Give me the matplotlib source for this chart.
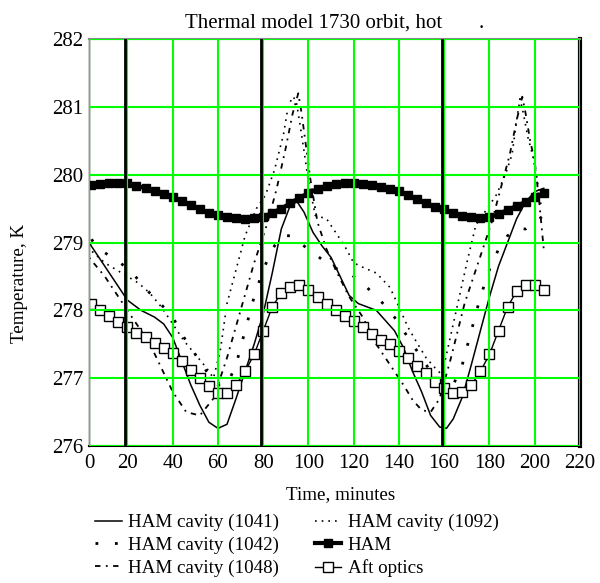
import matplotlib.pyplot as plt

plt.rcParams['font.family'] = ['Liberation Serif', 'DejaVu Serif']
plt.rcParams['font.size'] = 13.7

# HAM cavity (1041), solid line
t_1041 = [0, 4, 10, 16, 20, 26, 32, 36, 40, 44, 48, 52, 56, 60, 64, 68, 72, 76, 80, 84,
          88, 92, 95, 98, 102, 106, 110, 114, 118, 122, 126, 130, 134, 138, 142, 146, 150,
          154, 158, 161, 164, 168, 172, 176, 180, 184, 188, 192, 196, 200, 204]
v_1041 = [279.2, 278.95, 278.65, 278.35, 278.15, 278.0, 277.9, 277.8, 277.6, 277.25, 276.9,
          276.6, 276.35, 276.26, 276.32, 276.7, 277.1, 277.5, 277.95, 278.55, 279.2, 279.55,
          279.6, 279.45, 279.15, 278.95, 278.78, 278.5, 278.22, 278.1, 278.05, 278.0, 277.85,
          277.7, 277.45, 277.1, 276.8, 276.45, 276.28, 276.26, 276.4, 276.72, 277.2, 277.7,
          278.2, 278.65, 279.0, 279.35, 279.6, 279.75, 279.8]

# HAM cavity (1042), sparse dots
t_1042 = [0, 5, 10, 15, 21, 26, 30, 34, 40, 45, 50, 55, 60, 64, 68, 72, 76, 80, 84, 88,
          92, 96, 100, 106, 112, 118, 124, 130, 136, 142, 148, 154, 160, 164, 168, 172, 176,
          180, 184, 188, 192, 196, 200, 204]
v_1042 = [279.3, 279.0, 278.85, 278.74, 278.6, 278.4, 278.25, 278.12, 277.9, 277.6, 277.35,
          277.1, 276.9, 276.9, 277.2, 277.7, 278.2, 278.6, 278.9, 279.1, 279.1, 279.0, 278.9,
          278.75, 278.62, 278.55, 278.4, 278.2, 278.0, 277.7, 277.4, 277.1, 276.9, 276.9,
          277.2, 277.7, 278.2, 278.6, 278.9, 279.1, 279.2, 279.2, 279.3, 279.4]

# HAM cavity (1048), dash-dot
t_1048 = [0, 10, 20, 30, 40, 46, 52, 58, 64, 70, 76, 82, 86, 90, 93, 95.5, 97, 99, 101,
          104, 108, 112, 118, 124, 130, 136, 142, 146, 150, 154, 158, 163, 169, 175, 181,
          185, 189, 192, 194.5, 196, 198, 200, 202, 204]
v_1048 = [278.9, 278.5, 278.0, 277.5, 276.8, 276.5, 276.45, 276.7, 277.3, 278.0, 278.7,
          279.3, 279.8, 280.4, 280.9, 281.2, 280.9, 280.4, 279.9, 279.3, 278.9, 278.6,
          278.2, 277.9, 277.5, 277.2, 276.9, 276.68, 276.53, 276.5, 276.7, 277.3, 278.1,
          278.7, 279.3, 279.8, 280.3, 280.8, 281.15, 280.9, 280.5, 280.2, 279.6, 278.9]

# HAM cavity (1092), fine dots
t_1092 = [0, 5, 10, 15, 20, 25, 30, 35, 40, 45, 50, 55, 58, 61, 64, 68, 72, 77, 81, 85,
          89, 91, 93, 94.5, 96, 98, 100, 103, 108, 112, 116, 120, 125, 130, 136, 140, 144,
          148, 152, 156, 159, 162, 166, 170, 174, 179, 183, 187, 190, 192, 193.5, 195, 197,
          199, 201, 203]
v_1092 = [279.0, 278.85, 278.7, 278.6, 278.5, 278.4, 278.25, 278.05, 277.8, 277.55, 277.35,
          277.15, 277.0, 277.4, 278.1, 278.6, 279.1, 279.5, 279.7, 280.07, 280.6, 281.0,
          281.15, 281.1, 280.8, 280.36, 279.9, 279.4, 279.35, 279.15, 278.95, 278.7, 278.62,
          278.55, 278.34, 278.05, 277.75, 277.52, 277.3, 277.15, 277.05, 277.5, 278.1,
          278.7, 279.26, 279.5, 279.7, 280.0, 280.3, 280.8, 281.12, 280.9, 280.55, 280.3,
          279.95, 279.5]

# HAM, every 4 minutes
t_ham = list(range(0, 205, 4))
v_ham = [279.82, 279.85, 279.87, 279.88, 279.88, 279.88, 279.84, 279.8, 279.76, 279.71,
         279.67, 279.61, 279.55, 279.49, 279.44, 279.4, 279.38, 279.36, 279.35, 279.36,
         279.38, 279.44, 279.5, 279.58, 279.66, 279.73, 279.79, 279.84, 279.86, 279.88,
         279.88, 279.87, 279.85, 279.82, 279.79, 279.76, 279.7, 279.64, 279.58, 279.53,
         279.49, 279.44, 279.39, 279.37, 279.36, 279.37, 279.42, 279.48, 279.54, 279.6,
         279.67, 279.73]

# Aft optics, every 4 minutes
t_aft = list(range(0, 205, 4))
v_aft = [278.2, 278.1, 278.0, 277.92, 277.83, 277.75, 277.67, 277.6, 277.52, 277.45,
         277.37, 277.25, 277.12, 277.0, 276.88, 276.78, 276.78, 276.9, 277.1, 277.35,
         277.7, 278.05, 278.26, 278.34, 278.37, 278.3, 278.2, 278.1, 278.0, 277.92,
         277.85, 277.75, 277.65, 277.57, 277.5, 277.4, 277.3, 277.18, 277.07, 276.95,
         276.85, 276.78, 276.8, 276.9, 277.1, 277.35, 277.7, 278.05, 278.28, 278.37,
         278.38, 278.3]

eclipse_marks = [19, 79, 159]

fig = plt.figure(figsize=(6, 5.83), dpi=100)
ax = fig.add_axes([0.1483, 0.235, 0.8183, 0.698])

ax.plot(t_1041, v_1041, color='black', lw=1.1, label='HAM cavity (1041)')
ax.plot(t_1042, v_1042, color='black', lw=2, ls=(0, (1, 6)), label='HAM cavity (1042)')
ax.plot(t_1048, v_1048, color='black', lw=1.3, ls=(0, (3, 3, 1, 3)), label='HAM cavity (1048)')
ax.plot(t_1092, v_1092, color='black', lw=1.2, ls=(0, (1, 3)), label='HAM cavity (1092)')
ax.plot(t_ham, v_ham, color='black', lw=3, marker='s', ms=6, label='HAM')
ax.plot(t_aft, v_aft, color='black', lw=1, marker='s', ms=7, mfc='white', mew=1,
        label='Aft optics')

for x in eclipse_marks:
    ax.axvline(x, color='black', lw=2, zorder=3)

ax.set_xlim(3, 220)
ax.set_ylim(276, 282)
ax.set_xticks([3] + list(range(20, 221, 20)))
ax.set_xticklabels(['0'] + [str(v) for v in range(20, 221, 20)])
ax.set_yticks(range(276, 283))
ax.grid(True, color='#00ff00', lw=1.5)
ax.set_axisbelow(False)
ax.tick_params(length=0, pad=6, labelsize=15)
ax.tick_params(axis='y', pad=4)

ax.spines['left'].set_linewidth(1)
ax.spines['bottom'].set_linewidth(1.5)
ax.spines['right'].set_linewidth(3)
ax.spines['top'].set_color('#888888')
ax.spines['top'].set_linewidth(1.5)

ax.set_title('Thermal model 1730 orbit, hot       .', fontsize=15, pad=8)
fig.text(20 / 600, 1 - 283 / 583, 'Temperature, K', rotation=90, ha='center', va='center')
fig.text(341 / 600, 1 - 495 / 583, 'Time, minutes', ha='center', va='center')

handles, labels = ax.get_legend_handles_labels()
fig.legend(handles, labels, ncol=2, loc='upper left', bbox_to_anchor=(95 / 600, 1 - 514 / 583),
           frameon=False, handlelength=1.4, handletextpad=0.35, columnspacing=1.85,
           labelspacing=0.28, borderpad=0, borderaxespad=0)

fig.savefig('out.png', dpi=100)
